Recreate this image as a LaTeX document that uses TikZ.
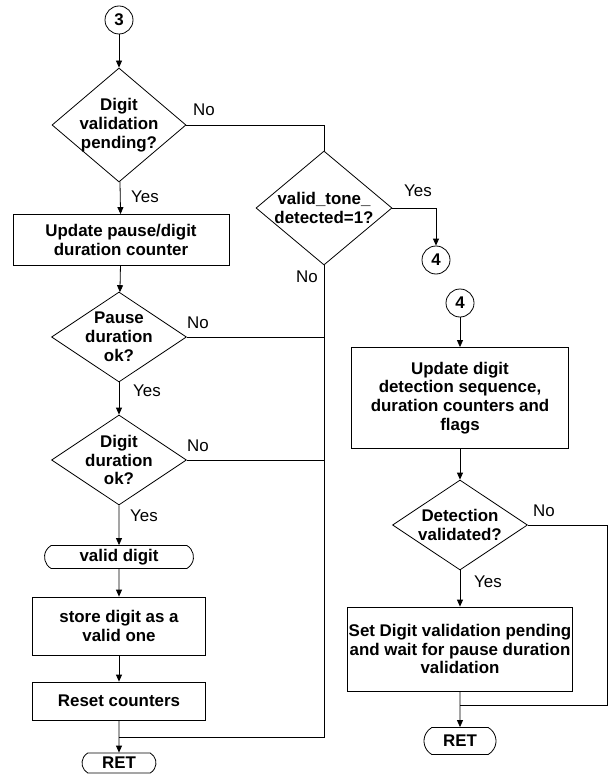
\documentclass[tikz,border=0pt]{standalone}
\usepackage{fontspec}
\setmainfont{Liberation Sans}
\usetikzlibrary{arrows.meta,shapes.geometric,shapes.misc}
\begin{document}
\begin{tikzpicture}[x=1pt,y=-1pt,
  base/.style={draw, line width=0.8pt, font=\bfseries\fontsize{16.9}{18.8}\selectfont, align=center, inner sep=0pt},
  dec/.style={base, diamond, inner xsep=-30pt, inner ysep=-30pt},
  proc/.style={base, rectangle},
  term/.style={base, rounded rectangle, rounded rectangle arc length=120},
  conn/.style={base, circle, minimum size=28pt},
  line/.style={line width=0.8pt},
  arr/.style={line, -{Triangle[length=7pt,width=6pt]}},
  lab/.style={font=\fontsize{16.9}{18.8}\selectfont, inner sep=0pt}
]
\useasboundingbox (0,0) rectangle (609,778);
% left column
\node[conn] (c3) at (119,20) {3};
\node[dec, minimum width=134pt, minimum height=114pt] (d1) at (119,125) {Digit\\validation\\pending?};
\node[proc, minimum width=216pt, minimum height=51pt] (b1) at (121,240) {Update pause/digit\\duration counter};
\node[dec, minimum width=135pt, minimum height=90pt] (d3) at (119,337) {Pause\\duration\\ok?};
\node[dec, minimum width=135pt, minimum height=90pt] (d4) at (119,460) {Digit\\duration\\ok?};
\node[term, minimum width=149pt, minimum height=23pt] (t1) at (119,557) {valid digit};
\node[proc, minimum width=173pt, minimum height=58pt] (b2) at (119,626) {store digit as a\\valid one};
\node[proc, minimum width=173pt, minimum height=38pt] (b3) at (119,701) {Reset counters};
\node[term, minimum width=74pt, minimum height=20pt] (r1) at (119,763) {RET};
% middle
\node[dec, minimum width=136pt, minimum height=114pt] (d2) at (324,208) {valid\_tone\_\\detected=1?};
\node[conn] (c4a) at (436,260) {4};
% right column
\node[conn] (c4b) at (460,303) {4};
\node[proc, minimum width=217pt, minimum height=101pt] (b4) at (460,398) {Update digit\\detection sequence,\\duration counters and\\flags};
\node[dec, minimum width=135pt, minimum height=90pt] (d5) at (460,525) {Detection\\validated?};
\node[proc, minimum width=225pt, minimum height=84pt] (b5) at (460,649) {Set Digit validation pending\\and wait for pause duration\\validation};
\node[term, minimum width=72pt, minimum height=27pt] (r2) at (460,741) {RET};
% junction coordinates
\coordinate (j1) at (324,125);
\coordinate (j2) at (436,208);
\coordinate (j3) at (324,737);
\coordinate (j4) at (119,737);
\coordinate (j5) at (324,337);
\coordinate (j6) at (324,460);
\coordinate (j7) at (607,525);
\coordinate (j8) at (607,705);
\coordinate (j9) at (460,705);
% connectors
\draw[arr] (c3) -- (d1);
\draw[line] (d1.east) -- (j1) -- (d2.north);
\draw[arr] (d1) -- (b1);
\draw[arr] (b1) -- (d3);
\draw[arr] (d3) -- (d4);
\draw[arr] (d4) -- (t1);
\draw[arr] (t1) -- (b2);
\draw[arr] (b2) -- (b3);
\draw[arr] (b3) -- (r1);
\draw[line] (d3.east) -- (j5);
\draw[line] (d4.east) -- (j6);
\draw[line] (d2.south) -- (j3) -- (j4);
\draw[arr] (d2.east) -- (j2) -- (c4a.north);
\draw[arr] (c4b) -- (b4);
\draw[arr] (b4) -- (d5);
\draw[arr] (d5) -- (b5);
\draw[line] (d5.east) -- (j7) -- (j8) -- (j9);
\draw[arr] (b5) -- (r2);
% labels
\node[lab] (l1) at (204,110) {No};
\node[lab] (l2) at (145,197) {Yes};
\node[lab] (l3) at (418,191) {Yes};
\node[lab] (l4) at (307,277) {No};
\node[lab] (l5) at (198,323) {No};
\node[lab] (l6) at (147,391) {Yes};
\node[lab] (l7) at (198,446) {No};
\node[lab] (l8) at (144,516) {Yes};
\node[lab] (l9) at (544,511) {No};
\node[lab] (l10) at (488,582) {Yes};
\end{tikzpicture}
\end{document}
